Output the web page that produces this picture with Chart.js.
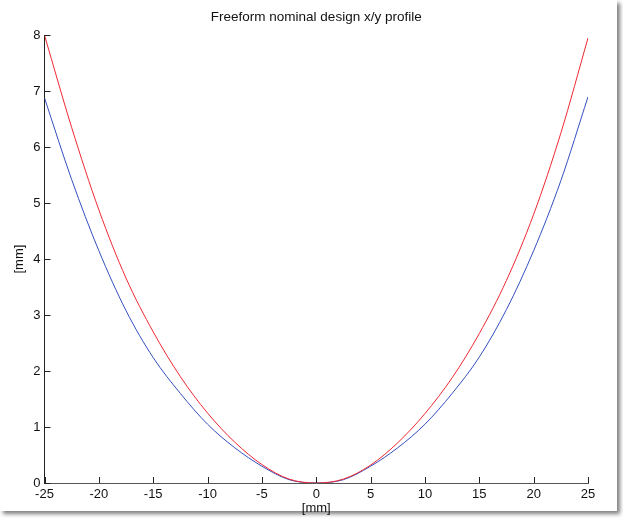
<!DOCTYPE html>
<html>
<head>
<meta charset="utf-8">
<script src="https://cdn.jsdelivr.net/npm/chart.js@4/dist/chart.umd.min.js"></script>
<style>
    body { margin: 0; background: #fff; }
    #frame {
        position: absolute; left: 0; top: 0;
        width: 617px; height: 511px;
        background: #fff;
        box-shadow: 3px 3px 4px rgba(0, 0, 0, 0.5);
    }
    #wrap { position: absolute; left: 0; top: 0; width: 623px; height: 518px; }
</style>
</head>
<body>
<div id="frame"></div>
<div id="wrap"><canvas id="profileChart" width="623" height="518"></canvas></div>
<script>
// Data
const xPositions = [-25, -22.5, -20, -17.5, -15, -12.5, -10, -7.5, -5, -2.5, 0,
                    2.5, 5, 7.5, 10, 12.5, 15, 17.5, 20, 22.5, 25];
const redProfile = [8.0, 6.35, 4.88, 3.66, 2.7, 1.9, 1.25, 0.73, 0.33, 0.07, 0,
                    0.07, 0.32, 0.72, 1.24, 1.88, 2.67, 3.62, 4.8, 6.25, 7.95];
const blueProfile = [6.88, 5.42, 4.15, 3.08, 2.24, 1.6, 1.05, 0.63, 0.3, 0.06, 0,
                     0.06, 0.3, 0.63, 1.05, 1.6, 2.25, 3.1, 4.15, 5.4, 6.9];
const xTicks = [-25, -20, -15, -10, -5, 0, 5, 10, 15, 20, 25];
const yTicks = [0, 1, 2, 3, 4, 5, 6, 7, 8];

const toPoints = (ys) => xPositions.map((x, i) => ({ x: x, y: ys[i] }));

// center the title over the plot area, like MATLAB does
const centerTitle = {
    id: 'centerTitle',
    afterLayout(chart) {
        const tb = chart.titleBlock;
        if (!tb) return;
        tb.left = chart.chartArea.left;
        tb.right = chart.chartArea.right;
        tb.width = tb.right - tb.left;
    }
};

// inward MATLAB-style ticks on the left and bottom axes
const innerTicks = {
    id: 'innerTicks',
    afterDatasetsDraw(chart) {
        const { ctx, chartArea, scales } = chart;
        ctx.save();
        ctx.strokeStyle = '#222';
        ctx.lineWidth = 1;
        ctx.beginPath();
        xTicks.forEach(v => {
            const px = Math.round(scales.x.getPixelForValue(v)) + 0.5;
            ctx.moveTo(px, chartArea.bottom);
            ctx.lineTo(px, chartArea.bottom - 6);
        });
        yTicks.forEach(v => {
            const py = Math.round(scales.y.getPixelForValue(v)) + 0.5;
            ctx.moveTo(chartArea.left, py);
            ctx.lineTo(chartArea.left + 6, py);
        });
        ctx.stroke();
        ctx.restore();
    }
};

const ctx = document.getElementById('profileChart').getContext('2d');
new Chart(ctx, {
    type: 'line',
    data: {
        datasets: [
            {
                label: 'x profile',
                data: toPoints(redProfile),
                borderColor: 'rgb(240, 40, 50)',
                borderWidth: 1,
                pointRadius: 0,
                cubicInterpolationMode: 'monotone',
                fill: false
            },
            {
                label: 'y profile',
                data: toPoints(blueProfile),
                borderColor: 'rgb(50, 80, 190)',
                borderWidth: 1,
                pointRadius: 0,
                cubicInterpolationMode: 'monotone',
                fill: false
            }
        ]
    },
    options: {
        responsive: false,
        animation: false,
        layout: { padding: { left: 0, right: 35, top: 0, bottom: 0 } },
        plugins: {
            legend: { display: false },
            tooltip: { enabled: false },
            title: {
                display: true,
                text: 'Freeform nominal design x/y profile',
                color: '#111',
                font: { family: 'Liberation Sans', size: 13.5, weight: 'normal' },
                padding: { top: 9, bottom: 10 }
            }
        },
        scales: {
            x: {
                type: 'linear',
                min: -25,
                max: 25,
                afterBuildTicks: (scale) => { scale.ticks = xTicks.map(v => ({ value: v })); },
                afterFit: (scale) => { scale.height = 35; },
                grid: { display: false, drawTicks: false },
                border: { display: true, color: '#555', width: 1 },
                ticks: {
                    color: '#111',
                    padding: 4,
                    maxRotation: 0,
                    font: { family: 'Liberation Sans', size: 13 }
                },
                title: {
                    display: true,
                    text: '[mm]',
                    color: '#111',
                    font: { family: 'Liberation Sans', size: 13 },
                    padding: { top: 0, bottom: 2 }
                }
            },
            y: {
                min: 0,
                max: 8,
                afterBuildTicks: (scale) => { scale.ticks = yTicks.map(v => ({ value: v })); },
                afterFit: (scale) => { scale.width = 44.5; },
                grid: { display: false, drawTicks: false },
                border: { display: true, color: '#222', width: 1 },
                ticks: {
                    color: '#111',
                    padding: 4,
                    font: { family: 'Liberation Sans', size: 13 }
                },
                title: {
                    display: true,
                    text: '[mm]',
                    color: '#111',
                    font: { family: 'Liberation Sans', size: 13 },
                    padding: { top: 12, bottom: 0 }
                }
            }
        }
    },
    plugins: [centerTitle, innerTicks]
});
</script>
</body>
</html>
